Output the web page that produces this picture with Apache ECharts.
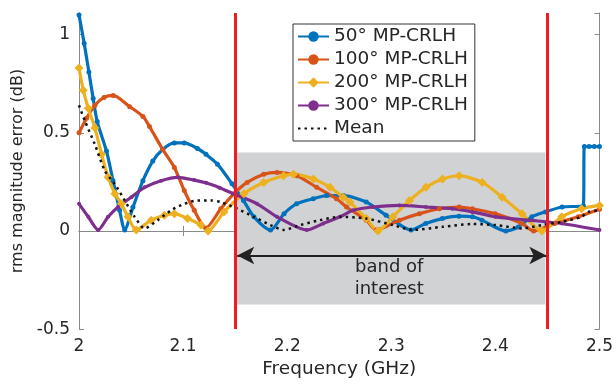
<!DOCTYPE html>
<html><head><meta charset="utf-8">
<script src="https://cdn.jsdelivr.net/npm/echarts@6/dist/echarts.min.js"></script>
<style>html,body{margin:0;padding:0;background:#fff}#c{width:616px;height:384px}</style>
</head><body><div id="c"></div>
<script>
// ---- data (frequency GHz, rms magnitude error dB) ----
const seriesNames = ['50° MP-CRLH', '100° MP-CRLH', '200° MP-CRLH', '300° MP-CRLH', 'Mean'];
const xTicks = [2, 2.1, 2.2, 2.3, 2.4, 2.5];
const yTicks = [-0.5, 0, 0.5, 1];
const bandLines = [2.1475, 2.449];
const bandBox = [2.15, 0.4, 2.448, -0.375];
const arrowSpan = [2.152, 2.449, -0.125];
const bandText = ['band of', 'interest'];
const bandTextPos = [2.298, -0.2425];

const mp50 = [[2.000,1.10],[2.005,0.955],[2.0095,0.81],[2.0136,0.675],[2.0175,0.557],[2.0264,0.407],[2.0327,0.256],[2.039,0.105],[2.0439,0.005],[2.0518,0.12],[2.0614,0.256],[2.0709,0.356],[2.0804,0.415],[2.0916,0.448],[2.1011,0.448],[2.1138,0.42],[2.122,0.39],[2.133,0.34],[2.147,0.24],[2.158,0.155],[2.168,0.072],[2.184,0.005],[2.197,0.088],[2.209,0.138],[2.225,0.164],[2.238,0.18],[2.254,0.18],[2.276,0.147],[2.295,0.08],[2.319,0.005],[2.333,0.038],[2.349,0.063],[2.365,0.075],[2.378,0.072],[2.387,0.055],[2.41,0.0],[2.422,0.02],[2.435,0.072],[2.448,0.097],[2.464,0.122],[2.4845,0.13],[2.4855,0.43],[2.49,0.43],[2.495,0.43],[2.5,0.43]];
const mp100 = [[2.000,0.50],[2.0073,0.574],[2.0153,0.64],[2.024,0.68],[2.0327,0.69],[2.0487,0.633],[2.0614,0.583],[2.0677,0.532],[2.0804,0.415],[2.0916,0.323],[2.1011,0.206],[2.1107,0.105],[2.1219,0.015],[2.1362,0.113],[2.1489,0.19],[2.1615,0.247],[2.1775,0.289],[2.1902,0.298],[2.2093,0.281],[2.2283,0.222],[2.2474,0.164],[2.257,0.122],[2.276,0.055],[2.2856,0.005],[2.3079,0.055],[2.327,0.088],[2.3461,0.113],[2.3652,0.122],[2.3779,0.113],[2.3998,0.088],[2.4256,0.038],[2.4367,0.0],[2.457,0.038],[2.4797,0.072],[2.5,0.11]];
const mp200 = [[2.000,0.83],[2.0041,0.717],[2.0089,0.625],[2.0153,0.524],[2.0217,0.39],[2.028,0.273],[2.0344,0.19],[2.0407,0.138],[2.047,0.072],[2.055,0.005],[2.0694,0.055],[2.0821,0.08],[2.0916,0.088],[2.1043,0.063],[2.1171,0.03],[2.124,0.0],[2.1393,0.097],[2.1584,0.19],[2.1775,0.247],[2.1966,0.281],[2.2061,0.289],[2.2252,0.264],[2.2411,0.222],[2.2538,0.172],[2.2602,0.147],[2.276,0.063],[2.2872,0.0],[2.3015,0.072],[2.3175,0.155],[2.3333,0.222],[2.3492,0.264],[2.3652,0.281],[2.3874,0.247],[2.4065,0.172],[2.4256,0.088],[2.4447,0.0],[2.4637,0.072],[2.4828,0.113],[2.5,0.13]];
const mp300 = [[2.000,0.138],[2.0089,0.072],[2.0184,0.005],[2.028,0.072],[2.0375,0.122],[2.0503,0.172],[2.063,0.222],[2.0789,0.256],[2.0948,0.273],[2.1107,0.259],[2.122,0.245],[2.135,0.22],[2.148,0.19],[2.1711,0.138],[2.1902,0.072],[2.2188,0.005],[2.2347,0.038],[2.2507,0.072],[2.2634,0.105],[2.2824,0.122],[2.3079,0.13],[2.3333,0.122],[2.3588,0.113],[2.3779,0.097],[2.4001,0.072],[2.432,0.055],[2.4637,0.038],[2.5,0.005]];
const meanErr = [[2.000,0.64],[2.0057,0.56],[2.0153,0.44],[2.0248,0.306],[2.0344,0.239],[2.0439,0.155],[2.0534,0.072],[2.063,0.013],[2.0757,0.055],[2.0885,0.105],[2.1011,0.138],[2.1138,0.155],[2.1266,0.155],[2.1362,0.147],[2.152,0.113],[2.1679,0.072],[2.1839,0.03],[2.1966,0.005],[2.2125,0.03],[2.2316,0.055],[2.2507,0.072],[2.276,0.063],[2.3015,0.03],[2.3206,0.005],[2.3492,0.021],[2.3779,0.035],[2.4001,0.03],[2.4256,0.013],[2.4447,0.03],[2.4637,0.046],[2.4828,0.072],[2.4892,0.097],[2.5,0.105]];

const FONT = 'DejaVu Sans';
const TXT = '#262626';
const AX = '#8a8a8a';
const colors = ['#0072bd', '#d95319', '#edb120', '#7e2f8e', '#111111'];

const chart = echarts.init(document.getElementById('c'), null, {renderer: 'canvas'});
function curve(name, data, color, symbol, size, z) {
  return {
    name, type: 'line', data, z, smooth: 0.25,
    symbol, symbolSize: size, showSymbol: symbol !== 'none',
    itemStyle: {color},
    lineStyle: {color, width: 3.2},
    emphasis: {disabled: true}, animation: false
  };
}
const meanSeries = curve(seriesNames[4], meanErr, colors[4], 'none', 0, 3);
meanSeries.itemStyle = {color: 'rgba(0,0,0,0)', opacity: 0};
meanSeries.lineStyle = {color: '#111', width: 2.5, type: [2.5, 4]};

const opt = {
  animation: false,
  textStyle: {fontFamily: FONT},
  grid: {left: 79, right: 13, top: 13, bottom: 50.5, containLabel: false},
  legend: {
    data: seriesNames.map(n => n === 'Mean'
      ? {name: n, itemStyle: {opacity: 0}}
      : {name: n}),
    orient: 'vertical', left: 293, top: 24,
    padding: [3, 7, 3, 4], itemGap: 4, itemWidth: 31, itemHeight: 13,
    backgroundColor: '#fff', borderColor: '#333', borderWidth: 1,
    textStyle: {fontFamily: FONT, fontSize: 18.5, color: TXT, lineHeight: 18},
    selectedMode: false
  },
  xAxis: [{
    type: 'value', min: xTicks[0], max: xTicks[xTicks.length - 1], interval: 0.1,
    name: 'Frequency (GHz)', nameLocation: 'middle', nameGap: 30,
    nameTextStyle: {fontFamily: FONT, fontSize: 18.5, color: TXT},
    axisLine: {show: true, lineStyle: {color: AX, width: 1}},
    axisTick: {show: true, inside: true, length: 5, lineStyle: {color: AX}},
    axisLabel: {fontFamily: FONT, fontSize: 17, color: TXT, margin: 9},
    splitLine: {show: false}
  }, {
    type: 'value', position: 'top', min: xTicks[0], max: xTicks[xTicks.length - 1], interval: 0.1,
    axisLine: {show: true, lineStyle: {color: AX, width: 1}},
    axisTick: {show: true, inside: true, length: 5, lineStyle: {color: AX}},
    axisLabel: {show: false}, splitLine: {show: false}
  }],
  yAxis: [{
    type: 'value', min: yTicks[0], max: 1.11, interval: 0.5,
    name: 'rms magnitude error (dB)', nameLocation: 'middle', nameGap: 45, nameRotate: 90,
    nameTextStyle: {fontFamily: FONT, fontSize: 16, color: TXT},
    axisLine: {show: true, lineStyle: {color: AX, width: 1}},
    axisTick: {show: true, inside: true, length: 5, lineStyle: {color: AX}},
    axisLabel: {fontFamily: FONT, fontSize: 17, color: TXT, margin: 9, showMaxLabel: false},
    splitLine: {show: false}
  }, {
    type: 'value', position: 'right', min: yTicks[0], max: 1.11, interval: 0.5,
    axisLine: {show: true, lineStyle: {color: AX, width: 1}},
    axisTick: {show: true, inside: true, length: 5, lineStyle: {color: AX}},
    axisLabel: {show: false}, splitLine: {show: false}
  }],
  series: [
    {
      name: 'band', type: 'line', data: [], z: 1, silent: true,
      markArea: {
        silent: true, itemStyle: {color: '#d1d2d4'},
        data: [[{coord: [bandBox[0], bandBox[1]]}, {coord: [bandBox[2], bandBox[3]]}]]
      }
    },
    curve(seriesNames[0], mp50, colors[0], 'circle', 5, 2),
    curve(seriesNames[1], mp100, colors[1], 'circle', 5, 2),
    curve(seriesNames[2], mp200, colors[2], 'diamond', 9, 2),
    curve(seriesNames[3], mp300, colors[3], 'circle', 4, 2),
    meanSeries,
    {
      name: 'annot', type: 'line', data: [], z: 6, silent: true,
      markLine: {
        silent: true, symbol: 'none', animation: false,
        label: {show: false},
        data: [
          {xAxis: bandLines[0], lineStyle: {color: '#ec1c24', width: 3, type: 'solid'}},
          {xAxis: bandLines[1], lineStyle: {color: '#ec1c24', width: 3, type: 'solid'}},
          [{coord: [arrowSpan[0], arrowSpan[2]], symbol: 'arrow', symbolSize: [13, 17]},
           {coord: [arrowSpan[1], arrowSpan[2]], symbol: 'arrow', symbolSize: [13, 17],
            lineStyle: {color: '#222', width: 2, type: 'solid'}}]
        ]
      },
      markPoint: {
        silent: true, symbol: 'rect', symbolSize: 1,
        itemStyle: {color: 'rgba(0,0,0,0)'},
        label: {show: true, position: 'inside', formatter: bandText.join('\n'),
          fontFamily: FONT, fontSize: 18, lineHeight: 22, color: TXT, align: 'center'},
        data: [{coord: bandTextPos}]
      }
    }
  ]
};
chart.setOption(opt);
</script></body></html>
